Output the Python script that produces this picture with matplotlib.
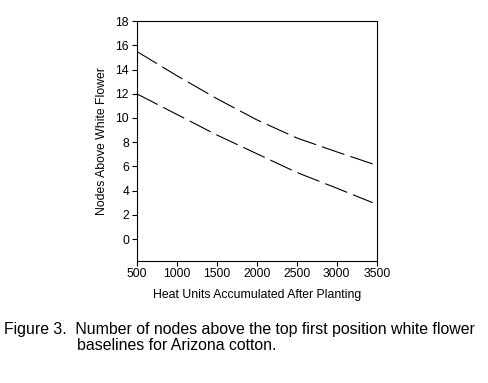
import numpy as np
import matplotlib
matplotlib.use('Agg')
import matplotlib.pyplot as plt

plt.rcParams['font.family'] = ['Liberation Sans', 'DejaVu Sans']
plt.rcParams['lines.scale_dashes'] = False

heat_units = [500, 1000, 1500, 2000, 2500, 3000, 3450]
upper = [15.5, 13.5, 11.6, 9.85, 8.35, 7.2, 6.2]
lower = [12.0, 10.3, 8.6, 7.05, 5.5, 4.2, 3.0]

xticks = [500, 1000, 1500, 2000, 2500, 3000, 3500]
yticks = [0, 2, 4, 6, 8, 10, 12, 14, 16, 18]

fig = plt.figure(figsize=(4.88, 3.83), dpi=100)
ax = fig.add_axes([0.280, 0.319, 0.492, 0.626])

ax.plot(heat_units, upper, color='black', linewidth=0.8, dashes=(17, 4.5))
ax.plot(heat_units, lower, color='black', linewidth=0.8, dashes=(17, 4.5))

ax.set_xlim(500, 3500)
ax.set_ylim(-1.8, 18)
ax.set_xticks(xticks)
ax.set_yticks(yticks)
ax.tick_params(direction='out', length=3.5, width=0.8, labelsize=8.8, pad=2)
for s in ax.spines.values():
    s.set_linewidth(0.8)

ax.set_xlabel('Heat Units Accumulated After Planting', fontsize=8.8, labelpad=6)
ax.set_ylabel('Nodes Above White Flower', fontsize=8.8, labelpad=5)

fig.text(0.008, 1 - 334 / 383, 'Figure 3.  Number of nodes above the top first position white flower',
         fontsize=11.4, va='baseline', ha='left')
fig.text(77 / 488, 1 - 350 / 383, 'baselines for Arizona cotton.',
         fontsize=11.4, va='baseline', ha='left')

fig.savefig('out.png', dpi=100)
